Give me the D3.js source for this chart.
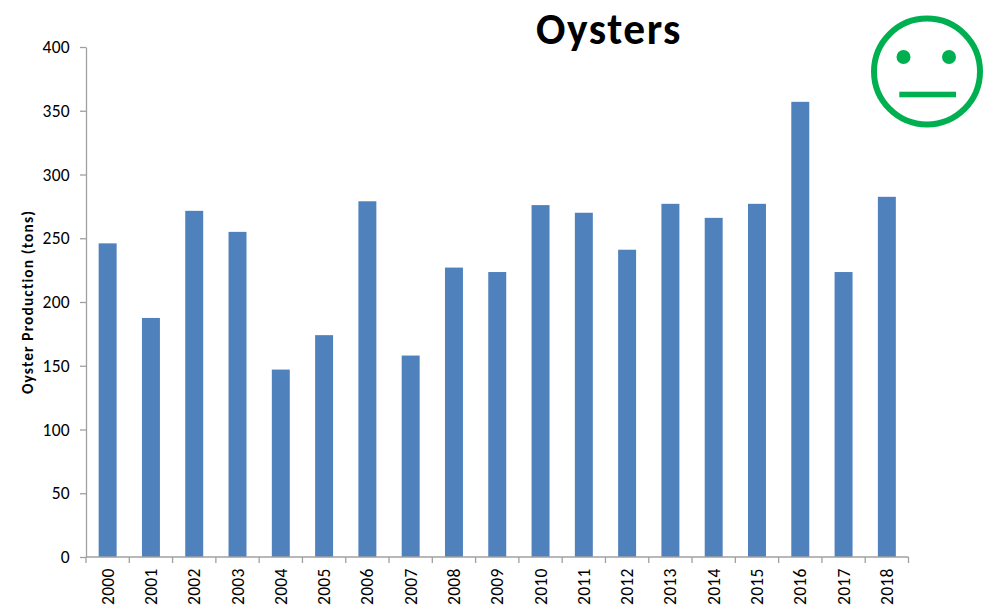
<!DOCTYPE html>
<html><head><meta charset="utf-8">
<script src="https://cdn.jsdelivr.net/npm/d3@7"></script>
<style>html,body{margin:0;background:#fff}svg{display:block}text{font-family:Carlito,Lato,"Open Sans",sans-serif;fill:#000}</style>
</head><body><svg id="c" width="999" height="610"></svg>
<script>
const years=["2000","2001","2002","2003","2004","2005","2006","2007","2008","2009","2010","2011","2012","2013","2014","2015","2016","2017","2018"];
const production=[246,187.5,271.5,255,147,174,279,158,227,223.5,276,270,241,277,266,277,357,223.5,282.5];
const yTicks=[0,50,100,150,200,250,300,350,400];
const titleText="Oysters";
const yLabel="Oyster Production (tons)";

const svg=d3.select("#c");
const x=d3.scaleBand().domain(years).range([86,908.5]).paddingInner(0.585).paddingOuter(0.2925);
const y=d3.scaleLinear().domain([0,400]).range([557,47]);
const axisColor="#a0a0a0";
const tickSize=17.5;

svg.append("g").selectAll("rect").data(years).join("rect")
  .attr("x",d=>x(d)).attr("width",x.bandwidth())
  .attr("y",(d,i)=>y(production[i])).attr("height",(d,i)=>y(0)-y(production[i]))
  .attr("fill","#4f81bd");

const gy=svg.append("g").attr("transform","translate(86,0)")
  .call(d3.axisLeft(y).tickValues(yTicks).tickSize(6).tickPadding(10).tickSizeOuter(0));
gy.selectAll("path,line").attr("stroke",axisColor).attr("stroke-width",1.3);
gy.selectAll("text").attr("font-size",tickSize).attr("letter-spacing",0.3);

const step=x.step();
const gx=svg.append("g").attr("transform","translate(0,557)");
gx.append("line").attr("x1",86).attr("x2",908.5).attr("stroke",axisColor).attr("stroke-width",1.3);
gx.selectAll("line.t").data(d3.range(years.length+1)).join("line").attr("class","t")
  .attr("x1",i=>86+i*step).attr("x2",i=>86+i*step).attr("y2",6)
  .attr("stroke",axisColor).attr("stroke-width",1.3);
gx.selectAll("text").data(years).join("text")
  .attr("transform",d=>`translate(${x(d)+x.bandwidth()/2+6},48) rotate(-90)`)
  .attr("font-size",tickSize).attr("letter-spacing",0.3).text(d=>d);

svg.append("text").attr("x",609).attr("y",44).attr("text-anchor","middle")
  .attr("font-size",43.5).attr("letter-spacing",1.5).attr("font-weight","bold").text(titleText);
svg.append("text").attr("transform","translate(33,302) rotate(-90)").attr("text-anchor","middle")
  .attr("font-size",15.5).attr("letter-spacing",1.1).attr("font-weight","bold").text(yLabel);

const green="#00b050";
const face=svg.append("g").attr("transform","translate(927,71.5)");
face.append("circle").attr("r",53).attr("fill","none").attr("stroke",green).attr("stroke-width",6);
face.selectAll("circle.e").data([-23.5,22]).join("circle").attr("class","e")
  .attr("cx",d=>d).attr("cy",-14.5).attr("r",7).attr("fill",green);
face.append("rect").attr("x",-27.7).attr("y",20.2).attr("width",56.7).attr("height",5.6).attr("fill",green);
</script></body></html>
